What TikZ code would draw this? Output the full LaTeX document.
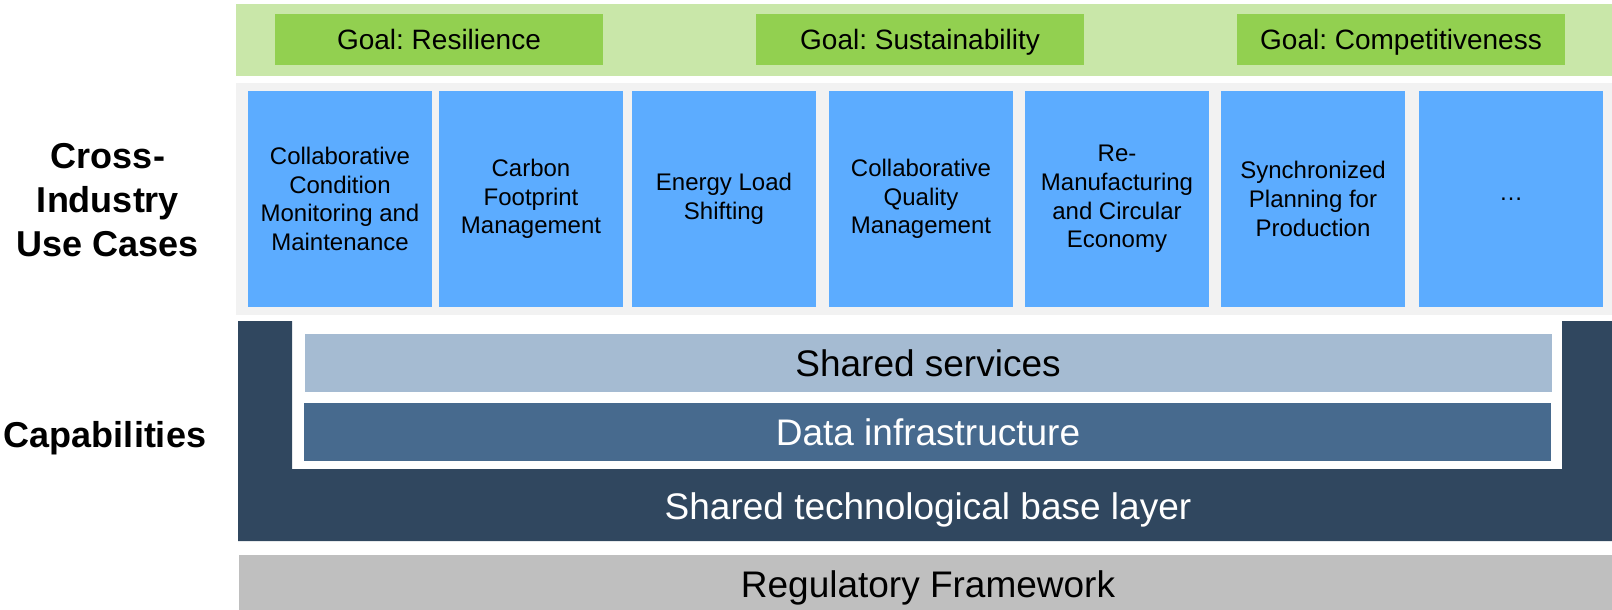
\documentclass[tikz,border=0pt]{standalone}
\usepackage{fontspec}
\setmainfont{Liberation Sans}
\usepackage{xcolor}
\usetikzlibrary{positioning}
\frenchspacing

\definecolor{goalband}{HTML}{C9E7A9}
\definecolor{goalgreen}{HTML}{92D050}
\definecolor{caseblue}{HTML}{5CACFF}
\definecolor{casebg}{HTML}{F2F2F2}
\definecolor{servlight}{HTML}{A5BBD2}
\definecolor{infrablue}{HTML}{476A8E}
\definecolor{basedark}{HTML}{30475F}
\definecolor{reggray}{HTML}{BFBFBF}

\begin{document}
\begin{tikzpicture}[x=1pt, y=-1pt,
	goal/.style={fill=goalgreen, minimum width=328pt, minimum height=51pt, inner sep=0pt, outer sep=0pt, text height=20pt, text depth=0pt, font=\fontsize{28}{33}\selectfont},
	usecase/.style={fill=caseblue, minimum width=184pt, minimum height=216pt, inner sep=0pt, outer sep=0pt, align=center, font=\fontsize{24}{28.7}\selectfont},
	layer/.style={anchor=base, font=\fontsize{37}{42}\selectfont},
	side/.style={align=center, font=\fontsize{36}{44}\selectfont\bfseries}]
		\useasboundingbox (0,0) rectangle (1612,610);
		% bands behind goals and use cases
		\fill[goalband] (236,4) rectangle (1612,76);
		\fill[casebg] (236,83) rectangle (1612,315);
		\node[goal] (resil) at (439,39.5) {Goal: Resilience};
		\node[goal] (sustain) at (920,39.5) {Goal: Sustainability};
		\node[goal] (compet) at (1401,39.5) {Goal: Competitiveness};
		\node[usecase] (condition) at (340,199) {Collaborative\\Condition\\Monitoring and\\Maintenance};
		\node[usecase, right=7pt of condition] (carbon) {Carbon\\Footprint\\Management};
		\node[usecase, right=9pt of carbon] (energy) {Energy Load\\Shifting};
		\node[usecase, right=13pt of energy] (quality) {Collaborative\\Quality\\Management};
		\node[usecase, right=12pt of quality] (reman) {Re-\\Manufacturing\\and Circular\\Economy};
		\node[usecase, right=12pt of reman] (planning) {Synchronized\\Planning for\\Production};
		\node[usecase, right=14pt of planning] (more) {…};
		% capability layers
		\fill[basedark] (238,321) -- (292,321) -- (292,469) -- (1562,469) -- (1562,321) -- (1612,321) -- (1612,541) -- (238,541) -- cycle;
		\fill[servlight] (305,334) rectangle (1552,392);
		\fill[infrablue] (304,403) rectangle (1551,461);
		\fill[reggray] (239,555) rectangle (1612,610);
		\node[layer] (services) at (928,376) {Shared services};
		\node[layer, text=white] (infra) at (928,445) {Data infrastructure};
		\node[layer, text=white] (base) at (928,519) {Shared technological base layer};
		\node[layer] (regul) at (928,597) {Regulatory Framework};
		\node[side] (cases) at (108,200) {Cross-\\Industry\\Use Cases};
		\node[side, anchor=base] (capab) at (105,447) {Capabilities};
	\end{tikzpicture}
\end{document}
